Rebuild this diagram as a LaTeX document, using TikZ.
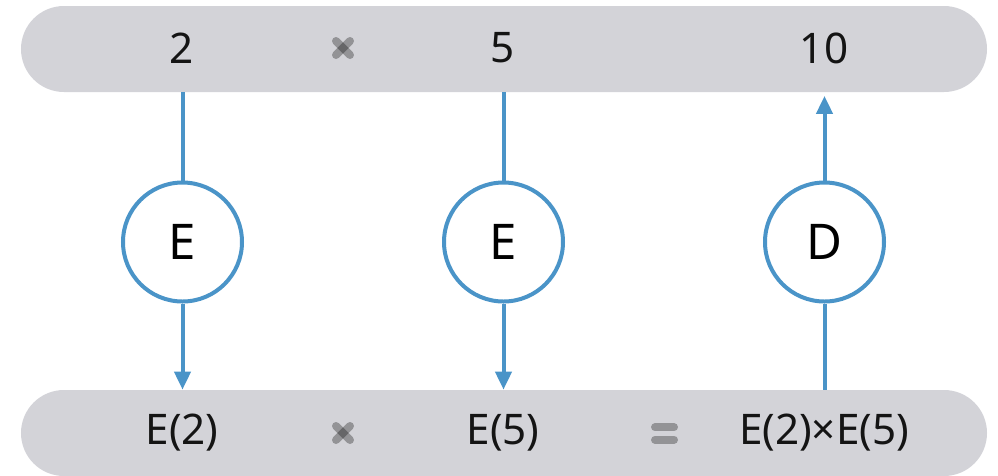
\documentclass[tikz,border=0pt]{standalone}
\usepackage{fontspec}
\setmainfont{Noto Sans}
\usetikzlibrary{arrows.meta,positioning}
\definecolor{barfill}{RGB}{211,211,216}
\definecolor{linkblue}{RGB}{74,148,200}

\begin{document}
\begin{tikzpicture}
  [x=0.2mm, y=-0.2mm, bar/.style = {fill=barfill, rounded corners=8.6mm,
    minimum width=193.2mm, minimum height=17.2mm, inner sep=0pt},
  cipher/.style = {shape=circle, draw=linkblue, line width=0.8mm,
    fill=white, minimum size=23.8mm, inner sep=0pt,
    font=\fontsize{28}{28}\selectfont},
  value/.style = {font=\fontsize{24}{24}\selectfont, text=black!92},
  link/.style = {draw=linkblue, line width=0.8mm},
  post/.style = {link, -{Triangle[length=3.6mm, width=3.2mm]}},
  op/.style = {line width=1.6mm, line cap=round, black, opacity=0.3}]

  \useasboundingbox (0,0) rectangle (998,475);

  % plain row and encrypted row
  \node [bar] (plain) at (504,49) {};
  \node [bar] (crypt) at (504,433) {};

  \node [value] (a) at (182,48) {2};
  \node [value] (b) at (503,48) {5};
  \node [value] (ab) at (824,48) {10};

  \node [cipher] (Ea) at (182.5,242) {E};
  \node [cipher] (Eb) at (503.5,242) {E};
  \node [cipher] (Dab) at (824.5,242) {D};

  \node [value] (ca) at (182,433) {E(2)};
  \node [value] (cb) at (503,433) {E(5)};
  \node [value] (cab) at (824,433) {E(2)×E(5)};

  % operators between the values
  \coordinate (mulplain) at (343,48);
  \coordinate (mulcrypt) at (343,433);
  \coordinate (eqcrypt) at (664.5,433.5);
  \foreach \m in {mulplain, mulcrypt} {
    \draw [op] ([shift={(-7,-7)}]\m) -- ([shift={(7,7)}]\m);
    \draw [op] ([shift={(-7,7)}]\m) -- ([shift={(7,-7)}]\m);
  }
  \draw [op] ([shift={(-9.5,-6.2)}]eqcrypt) -- ([shift={(9.5,-6.2)}]eqcrypt);
  \draw [op] ([shift={(-9.5,6.2)}]eqcrypt) -- ([shift={(9.5,6.2)}]eqcrypt);

  % encrypt down, decrypt up
  \draw [link] (Ea |- plain.south) -- (Ea);
  \draw [post] (Ea) -- (Ea |- crypt.north);
  \draw [link] (Eb |- plain.south) -- (Eb);
  \draw [post] (Eb) -- (Eb |- crypt.north);
  \draw [link] (Dab |- crypt.north) -- (Dab);
  \draw [post] (Dab) -- ([yshift=-2]Dab |- plain.south);
\end{tikzpicture}
\end{document}
